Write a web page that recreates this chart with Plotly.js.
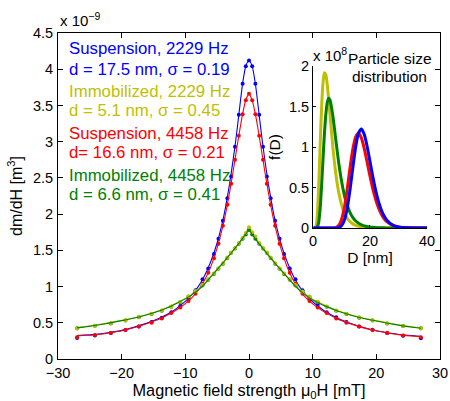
<!DOCTYPE html>
<html>
<head>
<meta charset="utf-8">
<script src="https://cdn.plot.ly/plotly-3.0.1.min.js"></script>
<style>html,body{margin:0;padding:0;background:#fff;}#chart{width:450px;height:401px;}</style>
</head>
<body>
<div id="chart"></div>
<script>
// ---- Main plot: fitted curves (values in units of 1e-9 m^3) ----
const H_fit = [-27,-26,-24,-22,-20,-18,-16,-14,-12,-11,-10,-9,-8,-7,-6,-5,-4,-3.5,-3,-2.5,-2,-1.5,-1,-0.5,0,0.5,1,1.5,2,2.5,3,3.5,4,5,6,7,8,9,10,11,12,14,16,18,20,22,24,26,27];
const fit_susp_2229 = [0.325,0.33,0.34,0.365,0.395,0.44,0.495,0.565,0.66,0.725,0.795,0.885,0.995,1.145,1.345,1.605,1.955,2.185,2.445,2.745,3.075,3.445,3.805,4.045,4.12,4.04,3.80,3.44,3.07,2.74,2.44,2.18,1.95,1.60,1.34,1.14,0.99,0.88,0.79,0.72,0.655,0.56,0.49,0.435,0.39,0.36,0.335,0.32,0.315];
const fit_susp_4458 = [0.32,0.325,0.335,0.36,0.39,0.435,0.49,0.555,0.645,0.70,0.765,0.845,0.945,1.085,1.275,1.535,1.875,2.085,2.325,2.585,2.865,3.135,3.385,3.575,3.66,3.57,3.38,3.13,2.86,2.58,2.32,2.08,1.87,1.53,1.27,1.08,0.94,0.84,0.76,0.695,0.64,0.55,0.485,0.43,0.39,0.355,0.33,0.315,0.31];
const fit_immo_2229 = [0.435,0.445,0.47,0.50,0.535,0.57,0.615,0.67,0.745,0.79,0.835,0.89,0.955,1.04,1.14,1.24,1.34,1.395,1.445,1.50,1.555,1.61,1.675,1.745,1.82,1.75,1.68,1.615,1.555,1.50,1.445,1.39,1.335,1.235,1.135,1.04,0.955,0.885,0.825,0.78,0.74,0.665,0.61,0.565,0.53,0.495,0.465,0.44,0.43];
const fit_immo_4458 = [0.43,0.44,0.465,0.495,0.53,0.565,0.61,0.665,0.74,0.785,0.83,0.885,0.95,1.035,1.135,1.235,1.335,1.39,1.44,1.495,1.55,1.605,1.665,1.725,1.78,1.72,1.66,1.60,1.545,1.49,1.435,1.385,1.33,1.23,1.13,1.03,0.945,0.875,0.815,0.77,0.73,0.66,0.605,0.56,0.525,0.49,0.46,0.435,0.425];

// ---- Main plot: measured points ----
const H_pts = [-27.0,-24.2,-21.7,-19.4,-17.3,-15.3,-13.7,-12.2,-10.8,-9.5,-8.4,-7.3,-6.4,-5.5,-4.8,-4.1,-3.4,-2.8,-2.2,-1.6,-1.0,-0.5,0,0.5,1.0,1.6,2.2,2.8,3.4,4.1,4.8,5.5,6.4,7.3,8.4,9.5,10.8,12.2,13.7,15.3,17.3,19.4,21.7,24.2,27.0];
const pts_susp_2229 = [0.29,0.325,0.36,0.40,0.45,0.51,0.57,0.645,0.73,0.84,0.95,1.10,1.25,1.45,1.66,1.91,2.22,2.52,2.93,3.37,3.80,4.04,4.12,4.04,3.80,3.37,2.93,2.52,2.22,1.91,1.66,1.45,1.25,1.10,0.95,0.84,0.75,0.645,0.575,0.51,0.45,0.405,0.36,0.32,0.285];
const pts_susp_4458 = [0.30,0.33,0.36,0.40,0.45,0.50,0.56,0.635,0.71,0.80,0.90,1.04,1.19,1.39,1.59,1.84,2.13,2.42,2.75,3.08,3.38,3.57,3.66,3.57,3.38,3.08,2.75,2.42,2.13,1.84,1.59,1.39,1.19,1.04,0.90,0.80,0.71,0.635,0.56,0.50,0.45,0.40,0.36,0.325,0.30];
const pts_immo_2229 = [0.42,0.46,0.495,0.535,0.58,0.625,0.67,0.725,0.79,0.865,0.94,1.02,1.10,1.18,1.25,1.32,1.40,1.47,1.53,1.60,1.67,1.74,1.82,1.75,1.69,1.60,1.53,1.47,1.40,1.32,1.25,1.18,1.10,1.02,0.93,0.86,0.79,0.725,0.67,0.625,0.575,0.535,0.49,0.455,0.42];
const pts_immo_4458 = [0.425,0.46,0.49,0.53,0.575,0.62,0.665,0.72,0.785,0.86,0.935,1.015,1.095,1.175,1.245,1.315,1.395,1.465,1.525,1.59,1.66,1.72,1.78,1.72,1.66,1.59,1.525,1.465,1.395,1.315,1.245,1.175,1.095,1.015,0.935,0.86,0.785,0.72,0.665,0.62,0.57,0.53,0.49,0.455,0.425];

// ---- Inset: particle size distribution (units of 1e8 per m) ----
const D_nm = [0.2,0.5,1,1.5,2,2.5,3,3.5,4,4.5,5,5.5,6,7,8,9,10,11,12,13,14,15,16,17,18,19,20,21,22,23,24,25,26,28,30,33,36,40];
const f_susp_2229 = [0,0,0,0,0,0,0,0,0,0,0,0,0,0,0.0005,0.005,0.027,0.096,0.244,0.475,0.753,1.007,1.174,1.221,1.154,1.006,0.820,0.631,0.462,0.324,0.220,0.144,0.092,0.035,0.0125,0.0024,0.0004,0];
const f_immo_2229 = [0,0,0.0126,0.146,0.509,1.011,1.475,1.785,1.916,1.895,1.771,1.589,1.384,0.989,0.672,0.444,0.289,0.187,0.121,0.0785,0.051,0.0334,0.022,0.0146,0.0097,0.0065,0.0044,0.003,0.002,0.0014,0.001,0.0007,0.0005,0.0003,0.0001,0,0,0];
const f_susp_4458 = [0,0,0,0,0,0,0,0,0,0,0,0,0,0.0006,0.0056,0.030,0.103,0.253,0.480,0.743,0.977,1.127,1.169,1.110,0.980,0.813,0.641,0.483,0.351,0.247,0.170,0.114,0.075,0.031,0.012,0.0027,0.0005,0];
const f_immo_4458 = [0,0,0.0002,0.0095,0.070,0.236,0.511,0.840,1.154,1.398,1.548,1.603,1.579,1.376,1.090,0.812,0.582,0.407,0.280,0.191,0.129,0.087,0.059,0.040,0.027,0.018,0.0126,0.0086,0.0059,0.0041,0.0028,0.002,0.0013,0.0006,0.0003,0.0001,0,0];

// ---- Legend texts ----
const legendLines = [
  {text:'Suspension, 2229 Hz', color:'#0000FF'},
  {text:'d = 17.5 nm, σ = 0.19', color:'#0000FF'},
  {text:'Immobilized, 2229 Hz', color:'#BFBF00'},
  {text:'d = 5.1 nm, σ = 0.45', color:'#BFBF00'},
  {text:'Suspension, 4458 Hz', color:'#FF0000'},
  {text:'d= 16.6 nm, σ = 0.21', color:'#FF0000'},
  {text:'Immobilized, 4458 Hz', color:'#008000'},
  {text:'d = 6.6 nm, σ = 0.41', color:'#008000'}
];
const legendY = [0.951,0.889,0.822,0.761,0.693,0.632,0.564,0.506];

const C = {blue:'#0000FF', red:'#FF0000', yellow:'#BFBF00', green:'#008000'};

function line(x, y, color, w, xa, ya) {
  return {x:x, y:y, type:'scatter', mode:'lines', line:{color:color, width:w, shape:'spline', smoothing:0.6}, xaxis:xa||'x', yaxis:ya||'y', hoverinfo:'skip'};
}
function dots(x, y, color) {
  return {x:x, y:y, type:'scatter', mode:'markers', marker:{color:color, size:4}, hoverinfo:'skip'};
}

const data = [
  dots(H_pts, pts_susp_2229, C.blue),
  line(H_fit, fit_susp_2229, C.blue, 1.1),
  dots(H_pts, pts_susp_4458, C.red),
  line(H_fit, fit_susp_4458, C.red, 1.1),
  line(H_fit, fit_immo_2229, C.yellow, 1.1),
  dots(H_pts, pts_immo_4458, C.green),
  dots(H_pts, pts_immo_2229, C.yellow),
  line(H_fit, fit_immo_4458, C.green, 1.1),
  line(D_nm, f_immo_2229, C.yellow, 3, 'x2', 'y2'),
  line(D_nm, f_immo_4458, C.green, 3, 'x2', 'y2'),
  line(D_nm, f_susp_4458, C.red, 3, 'x2', 'y2'),
  line(D_nm, f_susp_2229, C.blue, 3, 'x2', 'y2')
];

const annotations = legendLines.map((l, i) => ({
  text: l.text, x: 0.024, y: legendY[i], xref:'paper', yref:'paper',
  xanchor:'left', yanchor:'middle', showarrow:false, font:{size:16.8, color:l.color}
}));
annotations.push({text:'x 10<sup>−9</sup>', x:0, y:1.04, xref:'paper', yref:'paper', xanchor:'left', yanchor:'middle', showarrow:false, font:{size:15}});
annotations.push({text:'x 10<sup>8</sup>', x:0.663, y:0.935, xref:'paper', yref:'paper', xanchor:'left', yanchor:'middle', showarrow:false, font:{size:15}});
annotations.push({text:'Particle size', x:0.869, y:0.923, xref:'paper', yref:'paper', xanchor:'center', yanchor:'middle', showarrow:false, font:{size:15.5}});
annotations.push({text:'distribution', x:0.869, y:0.868, xref:'paper', yref:'paper', xanchor:'center', yanchor:'middle', showarrow:false, font:{size:15.5}});

const axCommon = {ticks:'inside', ticklen:5, tickcolor:'black', showline:true, linecolor:'black', linewidth:1, showgrid:false, zeroline:false, tickfont:{size:14.5}};

const layout = {
  width:450, height:401,
  margin:{l:58, r:10, t:33, b:42},
  paper_bgcolor:'white', plot_bgcolor:'white',
  showlegend:false,
  font:{family:'Liberation Sans, Arial, Helvetica, sans-serif', size:15, color:'black'},
  xaxis:Object.assign({}, axCommon, {range:[-30,30], tickvals:[-30,-20,-10,0,10,20,30], mirror:'ticks', ticklabelstandoff:1,
    title:{text:'Magnetic field strength μ<sub>0</sub>H [mT]', font:{size:16.3}, standoff:2}}),
  yaxis:Object.assign({}, axCommon, {range:[0,4.5], tickvals:[0,0.5,1,1.5,2,2.5,3,3.5,4,4.5], mirror:'ticks', ticklabelstandoff:1,
    title:{text:'dm/dH [m<sup>3</sup>]', font:{size:16}, standoff:6}}),
  xaxis2:Object.assign({}, axCommon, {domain:[0.6675,0.966], anchor:'y2', range:[0,40], tickvals:[0,20,40], ticklen:3,
    title:{text:'D [nm]', font:{size:15.5}, standoff:2}}),
  yaxis2:Object.assign({}, axCommon, {domain:[0.4018,0.8988], anchor:'x2', range:[0,2], tickvals:[0,0.5,1,1.5,2], ticklen:3,
    title:{text:'f(D)', font:{size:15.5}, standoff:4}}),
  annotations:annotations
};

Plotly.newPlot('chart', data, layout, {staticPlot:true, displayModeBar:false});
</script>
</body>
</html>
